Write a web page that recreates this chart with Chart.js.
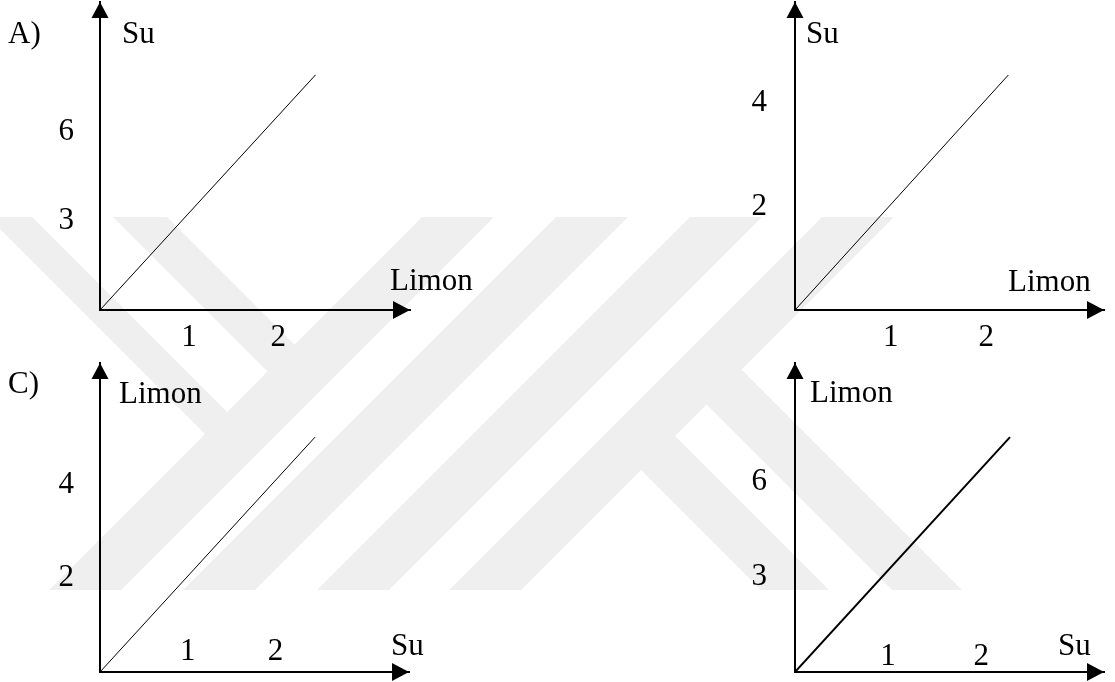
<!DOCTYPE html>
<html>
<head>
<meta charset="utf-8">
<script src="https://cdn.jsdelivr.net/npm/chart.js@4.4.1/dist/chart.umd.min.js"></script>
<style>
  html, body { margin: 0; padding: 0; background: #ffffff; }
  #page { position: relative; width: 1115px; height: 682px; overflow: hidden; background: #ffffff; }
  #page svg.bg { position: absolute; left: 0; top: 0; }
  #page canvas { position: absolute; }
</style>
</head>
<body>
<div id="page">
  <svg class="bg" width="1115" height="682" viewBox="0 0 1115 682">
    <g fill="#efefef">
      <polygon points="422,217 494,217 121,590 49,590"/>
      <polygon points="556,217 628,217 255,590 183,590"/>
      <polygon points="690,217 762,217 389,590 317,590"/>
      <polygon points="822,217 894,217 521,590 449,590"/>
      <polygon points="-12,217 32,217 249,434 205,434"/>
      <polygon points="113,217 167,217 321,371 267,371"/>
      <polygon points="670,368 740,368 962,590 892,590"/>
      <polygon points="605,434 673,434 829,590 761,590"/>
    </g>
  </svg>
  <canvas id="pA" width="557" height="360" style="left:0px;top:0px"></canvas>
  <canvas id="pB" width="558" height="360" style="left:557px;top:0px"></canvas>
  <canvas id="pC" width="557" height="341" style="left:0px;top:341px"></canvas>
  <canvas id="pD" width="558" height="341" style="left:557px;top:341px"></canvas>
</div>
<script>
// Panel labels and axis names
const panelLabels = ['A)', '', 'C)', ''];
const xTitles = ['Limon', 'Limon', 'Su', 'Su'];
const yTitles = ['Su', 'Su', 'Limon', 'Limon'];

// Tick values shown on each axis
const xTickValues = [[1, 2], [1, 2], [1, 2], [1, 2]];
const yTickValues = [[3, 6], [2, 4], [2, 4], [3, 6]];

// Axis extents (value at the arrow tip)
const xAxisMax = [3.48, 3.23, 3.52, 3.32];
const yAxisMax = [10.4, 5.95, 6.59, 9.75];

// Each line runs from the origin to this end point
const lineEndX = [2.42, 2.23, 2.45, 2.31];
const lineEndY = [7.94, 4.54, 5.01, 7.41];

// ---- layout / styling ----
const FONT_CSS = "31px 'Liberation Serif', 'Times New Roman', serif";

const canvasIds = ['pA', 'pB', 'pC', 'pD'];
const layouts = [
  { padTop: 2,  padRight: 147, yWidth: 100, xHeight: 50, xTickOffset: 28,  yTickGap: 26, lineW: 1,
    label: [8, 43],  yTitle: [122, 43],  xTitle: [390, 290] },
  { padTop: 2,  padRight: 11,  yWidth: 238, xHeight: 50, xTickOffset: 28,  yTickGap: 28, lineW: 1,
    label: [0, 0],   yTitle: [249, 43],  xTitle: [451, 291] },
  { padTop: 22, padRight: 148, yWidth: 100, xHeight: 10, xTickOffset: -20, yTickGap: 26, lineW: 1,
    label: [8, 52],  yTitle: [119, 62],  xTitle: [391, 314] },
  { padTop: 22, padRight: 11,  yWidth: 238, xHeight: 10, xTickOffset: -15, yTickGap: 28, lineW: 2,
    label: [0, 0],   yTitle: [253, 61],  xTitle: [501, 314] }
];

// Arrow heads at the axis ends, tick labels from the scales, axis names and panel letter
const axisDecor = {
  id: 'axisDecor',
  afterDraw(chart, args, opts) {
    const { ctx, chartArea: a, scales } = chart;
    const L = opts.layout;
    ctx.save();
    ctx.fillStyle = '#000';
    // up arrow
    ctx.beginPath();
    ctx.moveTo(a.left, a.top);
    ctx.lineTo(a.left - 8.5, a.top + 16);
    ctx.lineTo(a.left + 8.5, a.top + 16);
    ctx.closePath();
    ctx.fill();
    // right arrow
    ctx.beginPath();
    ctx.moveTo(a.right, a.bottom);
    ctx.lineTo(a.right - 17, a.bottom - 9);
    ctx.lineTo(a.right - 17, a.bottom + 9);
    ctx.closePath();
    ctx.fill();

    ctx.font = FONT_CSS;
    // tick labels placed by the scales
    ctx.textBaseline = 'middle';
    ctx.textAlign = 'center';
    opts.xTicks.forEach(v => {
      ctx.fillText(String(v), scales.x.getPixelForValue(v), a.bottom + L.xTickOffset);
    });
    ctx.textAlign = 'right';
    opts.yTicks.forEach(v => {
      ctx.fillText(String(v), a.left - L.yTickGap, scales.y.getPixelForValue(v));
    });

    // axis names and panel letter
    ctx.textAlign = 'left';
    ctx.textBaseline = 'alphabetic';
    if (opts.panelLabel) ctx.fillText(opts.panelLabel, L.label[0], L.label[1]);
    ctx.fillText(opts.yTitle, L.yTitle[0], L.yTitle[1]);
    ctx.fillText(opts.xTitle, L.xTitle[0], L.xTitle[1]);
    ctx.restore();
  }
};

canvasIds.forEach((id, i) => {
  const L = layouts[i];
  new Chart(document.getElementById(id), {
    type: 'scatter',
    data: {
      datasets: [{
        data: [{ x: 0, y: 0 }, { x: lineEndX[i], y: lineEndY[i] }],
        showLine: true,
        borderColor: '#000',
        borderWidth: L.lineW,
        pointRadius: 0,
        pointHoverRadius: 0,
        tension: 0,
        fill: false
      }]
    },
    options: {
      responsive: false,
      animation: false,
      events: [],
      layout: { autoPadding: false, padding: { top: L.padTop, right: L.padRight, left: 0, bottom: 0 } },
      plugins: {
        legend: { display: false },
        tooltip: { enabled: false },
        axisDecor: {
          layout: L,
          panelLabel: panelLabels[i],
          xTitle: xTitles[i],
          yTitle: yTitles[i],
          xTicks: xTickValues[i],
          yTicks: yTickValues[i]
        }
      },
      scales: {
        x: {
          type: 'linear',
          min: 0,
          max: xAxisMax[i],
          grid: { display: false, drawTicks: false },
          border: { display: true, color: '#000', width: 2 },
          ticks: { display: false },
          afterBuildTicks: s => { s.ticks = xTickValues[i].map(v => ({ value: v })); },
          afterFit: s => { s.height = L.xHeight; }
        },
        y: {
          type: 'linear',
          min: 0,
          max: yAxisMax[i],
          grid: { display: false, drawTicks: false },
          border: { display: true, color: '#000', width: 2 },
          ticks: { display: false },
          afterBuildTicks: s => { s.ticks = yTickValues[i].map(v => ({ value: v })); },
          afterFit: s => { s.width = L.yWidth; }
        }
      }
    },
    plugins: [axisDecor]
  });
});
</script>
</body>
</html>
